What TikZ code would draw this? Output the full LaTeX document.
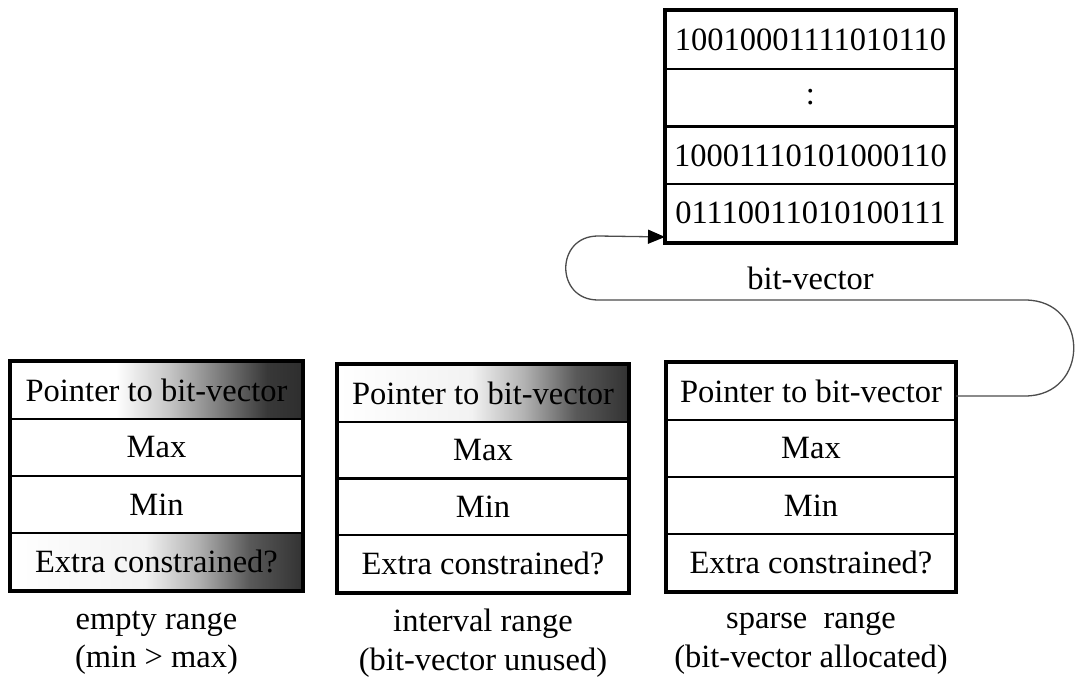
\documentclass[tikz,border=0pt]{standalone}
\usepackage{fontspec}
\setmainfont{Liberation Serif}
\usetikzlibrary{arrows.meta}

% dark-to-the-right fades for the cells that are not in use
\pgfdeclarehorizontalshading{fadeA}{100bp}{color(0bp)=(white); color(25bp)=(white); color(43bp)=(white); color(52bp)=(black!22); color(62bp)=(black!55); color(69bp)=(black!78); color(75bp)=(black!82); color(100bp)=(black!82)}
\pgfdeclarehorizontalshading{fadeB}{100bp}{color(0bp)=(white); color(25bp)=(white); color(48bp)=(white!95!black); color(57bp)=(black!30); color(66bp)=(black!65); color(75bp)=(black!80); color(100bp)=(black!80)}

\begin{document}
\begin{tikzpicture}[x=1pt,y=-1pt,
  txt/.style={font=\fontsize{32.5}{38.5}\selectfont},
  cell/.style={txt, draw, line width=2pt, inner sep=0pt, anchor=center},
  cellA/.style={cell, minimum width=291pt, minimum height=57pt},
  cellB/.style={cell, minimum width=290pt, minimum height=56.75pt},
  cellC/.style={cell, minimum width=288pt, minimum height=57pt},
  cellV/.style={cell, minimum width=289pt, minimum height=57.75pt},
  frame/.style={line width=3.2pt, line join=miter},
  caption/.style={txt, align=center, inner sep=0pt},
  link/.style={draw=black!70, line width=1.3pt}
]
\useasboundingbox (0,0) rectangle (1079,682);

% bit-vector store
\node[cellV] (v1) at (810.5,39.9)  {10010001111010110};
\node[cellV] (v2) at (810.5,97.6)  {:};
\node[cellV] (v3) at (810.5,155.4) {10001110101000110};
\node[cellV] (v4) at (810.5,213.1) {01110011010100111};
\draw[frame] (v1.north west) rectangle (v4.south east);
\node[caption] (vcap) at (810.5,278) {bit-vector};

% empty range
\node[cellA, shade, shading=fadeA] (a1) at (156.5,390.5) {Pointer to bit-vector};
\node[cellA] (a2) at (156.5,447.5) {Max};
\node[cellA] (a3) at (156.5,504.5) {Min};
\node[cellA, shade, shading=fadeB] (a4) at (156.5,561.5) {Extra constrained?};
\draw[frame] (a1.north west) rectangle (a4.south east);
\node[caption] (acap) at (156.5,643) {empty range\\(min > max)};

% interval range
\node[cellB, shade, shading=fadeB] (b1) at (483,393.4) {Pointer to bit-vector};
\node[cellB] (b2) at (483,450.1) {Max};
\node[cellB] (b3) at (483,506.9) {Min};
\node[cellB] (b4) at (483,563.6) {Extra constrained?};
\draw[frame] (b1.north west) rectangle (b4.south east);
\node[caption] (bcap) at (483,643) {interval range\\(bit-vector unused)};

% sparse range
\node[cellC] (c1) at (811,391.5) {Pointer to bit-vector};
\node[cellC] (c2) at (811,448.5) {Max};
\node[cellC] (c3) at (811,505.5) {Min};
\node[cellC] (c4) at (811,562.5) {Extra constrained?};
\draw[frame] (c1.north west) rectangle (c4.south east);
\node[caption] (ccap) at (811,643) {sparse\ \ range\\(bit-vector allocated)};

% pointer from the sparse range to the bit-vector
\coordinate (tip) at ([yshift=6pt]v4.south west);
\draw[link, -{Triangle[length=17pt,width=14pt,color=black,fill=black]}]
  ([yshift=-4.5pt]c1.east) -- (1025,396)
  .. controls (1090,396) and (1090,300) .. (1025,300)
  -- (598,300)
  .. controls (555,300) and (555,236) .. (598,236)
  -- (tip);
\end{tikzpicture}
\end{document}
